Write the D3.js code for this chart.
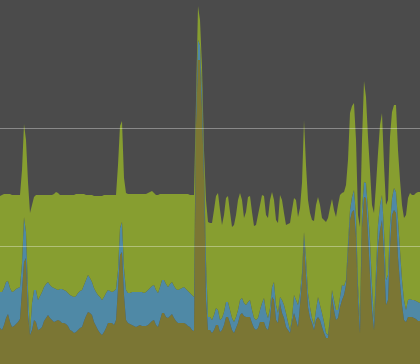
<!DOCTYPE html>
<html>
<head>
<meta charset="utf-8">
<script src="https://cdn.jsdelivr.net/npm/d3@7"></script>
<style>
html,body{margin:0;padding:0;background:#4b4b4b;}
svg{display:block;}
</style>
</head>
<body>
<svg id="chart" width="420" height="364"></svg>
<script>
// sample index (211 evenly spaced samples)
const sampleCount = 211;

// bottom series (olive)
const olive = [36,34,39,46,50,42,37,38,40,42,45,74,102,106,49,29,34,44,42,34,
35,37,43,46,49,46,44,42,43,44,43,41,41,40,38,34,33,31,32,34,
36,37,43,48,52,51,49,42,38,34,31,29,32,36,41,41,41,39,44,76,
109,112,69,44,41,40,39,38,37,38,39,38,38,38,39,41,43,44,39,37,
44,51,51,47,46,48,50,46,43,41,41,41,41,40,38,37,34,33,239,304,
304,254,184,64,34,34,31,34,39,39,32,34,39,47,47,41,34,31,36,41,
49,51,48,47,47,47,41,36,34,36,42,42,42,36,34,44,67,64,44,41,
61,51,46,37,34,31,42,51,44,37,59,82,124,89,57,46,41,34,44,47,
44,37,31,26,26,44,67,54,44,46,57,64,69,79,111,144,152,154,127,64,
31,137,167,166,129,89,54,34,77,117,134,144,109,59,64,117,149,154,151,107,
81,59,44,42,47,47,47,46,45,43,43];

// middle series (blue)
const blue = [36,38,37,36,33,34,35,35,35,34,32,27,45,26,25,2,27,30,32,30,
33,35,34,34,33,33,33,34,32,30,32,34,33,33,33,35,35,36,36,37,
37,37,36,36,37,35,33,34,34,35,36,35,35,35,33,32,31,34,31,18,
27,30,27,30,30,31,33,34,35,34,33,34,33,34,35,35,35,35,35,34,
33,33,33,33,31,32,32,32,32,33,34,35,36,35,35,34,35,34,15,20,
15,20,15,40,13,13,13,15,17,15,12,12,13,15,15,13,12,11,11,13,
15,15,13,12,15,17,13,10,10,10,12,19,24,16,12,12,10,18,15,10,
6,13,13,14,8,3,4,18,20,22,12,9,8,17,14,11,5,5,10,20,
15,14,11,5,3,3,7,10,10,8,10,15,9,5,10,10,15,20,22,15,
13,17,15,15,25,35,25,10,17,22,25,25,25,25,25,22,17,22,21,37,
33,25,20,12,17,18,17,18,18,19,18];

// top series (green)
const green = [96,97,94,88,87,94,97,96,94,93,92,93,93,92,108,120,98,93,95,105,
101,97,92,89,87,90,92,94,97,97,94,94,95,96,98,100,101,102,102,99,
97,96,91,85,80,83,87,92,96,99,101,104,102,98,95,96,97,96,94,105,
102,101,90,97,99,99,98,98,98,98,98,98,99,98,97,96,95,92,95,98,
93,86,86,90,93,90,88,92,95,96,95,94,93,95,97,98,100,102,10,34,
25,23,15,60,95,94,97,105,112,117,110,93,97,104,106,98,91,97,102,110,
107,98,85,93,105,104,98,92,95,103,105,108,102,97,100,108,95,82,85,90,
102,100,92,88,98,107,108,97,100,88,85,90,112,93,93,94,98,104,105,100,
100,95,102,111,117,109,91,90,93,105,102,92,94,95,83,97,91,87,75,70,
93,70,101,86,73,70,80,107,85,72,80,82,65,75,75,88,86,83,87,70,
70,75,82,95,102,106,105,105,108,110,111];

const seriesKeys = ["olive", "blue", "green"];
const seriesColors = ["#7b7634", "#4f89a6", "#879e30"];
const gridValues = [118, 236];

const W = 420, H = 364;
const rows = d3.range(sampleCount).map(i => ({
  i: i, olive: olive[i], blue: blue[i], green: green[i]
}));

const x = d3.scaleLinear().domain([0, sampleCount - 1]).range([0, W]);
const y = d3.scaleLinear().domain([0, 364]).range([H, 0]);

const stack = d3.stack().keys(seriesKeys);
const layers = stack(rows);

const svg = d3.select("#chart");
svg.append("rect").attr("width", W).attr("height", H).attr("fill", "#4b4b4b");

const area = d3.area()
  .x(d => x(d.data.i))
  .y0(d => y(d[0]))
  .y1(d => y(d[1]))
  .curve(d3.curveLinear);

svg.selectAll("path.layer")
  .data(layers)
  .join("path")
  .attr("class", "layer")
  .attr("fill", (d, i) => seriesColors[i])
  .attr("d", area);

svg.selectAll("line.grid")
  .data(gridValues)
  .join("line")
  .attr("class", "grid")
  .attr("x1", 0).attr("x2", W)
  .attr("y1", d => Math.round(y(d)) + 0.5)
  .attr("y2", d => Math.round(y(d)) + 0.5)
  .attr("stroke", "#ffffff")
  .attr("stroke-opacity", 0.35)
  .attr("stroke-width", 1);
</script>
</body>
</html>
